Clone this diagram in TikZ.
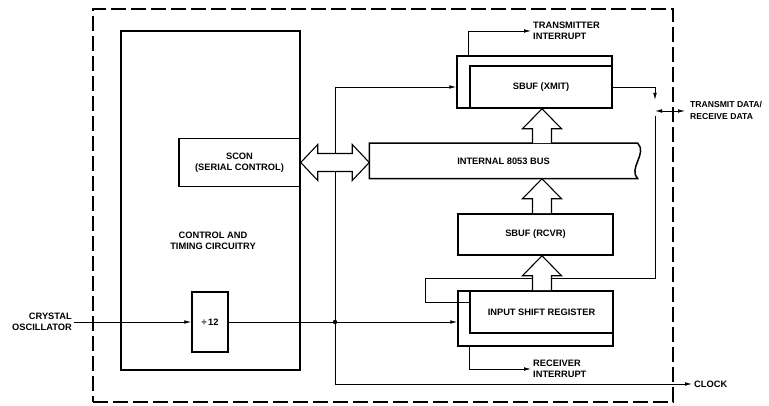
\documentclass[tikz,border=0pt]{standalone}
\usepackage{fontspec}
\setmainfont{Liberation Sans}
\usetikzlibrary{arrows.meta,calc,positioning}
\newcommand{\lbl}{\fontsize{9.3}{11.5}\selectfont\bfseries}
% hollow bus arrow pointing up, from #1 (lower box) to #2 (upper box), on column (ax)
\newcommand{\bigup}[2]{%
  \draw[hollow] ($(ax |- #1)+(-9.5,0)$) -- ($(ax |- #2)+(-9.5,20)$) -- ($(ax |- #2)+(-19.5,20)$)
    -- (ax |- #2) -- ($(ax |- #2)+(19.5,20)$) -- ($(ax |- #2)+(9.5,20)$) -- ($(ax |- #1)+(9.5,0)$);}
\tikzset{
    every node/.append style={align=center},
    box/.style={rectangle,draw=black,line width=1.5pt,inner sep=0pt,font=\lbl},
    boundary/.style={rectangle,draw=black,line width=1.1pt,dash pattern=on 15pt off 5pt},
    arr/.style={-{Latex[length=7pt,width=3.6pt]},line width=0.8pt},
    darr/.style={{Latex[length=7pt,width=3.6pt]}-{Latex[length=7pt,width=3.6pt]},line width=0.8pt},
    wire/.style={line width=0.8pt},
    hollow/.style={draw=black,fill=white,line width=1.1pt,line join=miter},
    txt/.style={font=\lbl,inner sep=2pt}
}
\begin{document}
\begin{tikzpicture}[x=1pt,y=-1pt]
    \useasboundingbox (0,0) rectangle (769,406);
    % chip outline and control section
    \node[boundary,minimum width=580pt,minimum height=393pt] (chip) at (383,205.5) {};
    \node[box,line width=1.7pt,minimum width=179pt,minimum height=339pt] (ctrl) at (210.5,200.5) {};
    \node[txt] (ctrltxt) at (213,241) {CONTROL AND\\TIMING CIRCUITRY};
    \node[box,minimum width=121pt,minimum height=48pt] (scon) at (239.5,162.5) {SCON\\(SERIAL CONTROL)};
    \node[box,minimum width=36pt,minimum height=60pt] (div) at (210,322) {÷\,12};

    % serial port buffers
    \node[box,draw=none,minimum width=267pt,minimum height=34pt] (bus) at (503.5,161) {INTERNAL 8053 BUS};
    \draw[line width=1.5pt] (bus.north east) -- (bus.north west) -- (bus.south west) -- (bus.south east)
        .. controls ($(bus.south east)+(-10,-10)$) and ($(bus.north east)+(10,10)$) .. (bus.north east) -- cycle;
    \node[box,minimum width=155pt,minimum height=52pt] (xmitb) at (534.5,82) {};
    \node[box,minimum width=142pt,minimum height=42pt] (xmit)  at (541,87) {SBUF (XMIT)};
    \node[box,minimum width=155pt,minimum height=41pt] (rcvr)  at (535.5,234.5) {SBUF (RCVR)};
    \node[box,minimum width=155pt,minimum height=55pt] (isrb)  at (535.5,318.5) {};
    \node[box,minimum width=143pt,minimum height=42pt] (isr)   at (541.5,312) {INPUT SHIFT REGISTER};

    % outside labels
    \node[txt,anchor=east,align=right] (xtal)  at (74,322)    {CRYSTAL\\OSCILLATOR};
    \node[txt,anchor=west,align=left]  (txint) at (531,31)    {TRANSMITTER\\INTERRUPT};
    \node[txt,anchor=west,align=left]  (rxint) at (531,369)   {RECEIVER\\INTERRUPT};
    \node[txt,anchor=west,align=left,font=\fontsize{8.6}{11.5}\selectfont\bfseries]
                                       (txd)   at (688,110.5) {TRANSMIT DATA/\\RECEIVE DATA};
    \node[txt,anchor=west]             (clk)   at (692,384)   {CLOCK};
    \coordinate (jn)  at (335,322);
    \coordinate (pin) at (655,111);
    \coordinate (fb)  at (425,278);
    \coordinate (ax)  at (542,0);

    % clock paths
    \draw[arr] (xtal.east) -- (div.west);
    \draw[arr] (div.east) -- (div.east -| isrb.west);
    \draw[arr] (jn) |- (xmit -| xmitb.west);
    \draw[arr] (jn) |- (clk.west);
    \fill (jn) circle (2.2pt);

    % serial data and interrupts
    \draw[arr] (xmit.east) -| ($(pin)+(0,-11)$);
    \draw[darr,shorten >=3pt] (pin) -- (pin -| txd.west);
    \draw[wire] ($(pin)+(0,5)$) |- (fb) |- ($(isr.north west)+(0,12)$);
    \draw[arr] (xmitb.north west) ++(12,0) |- (txint.west);
    \draw[arr] (isrb.south west) ++(12,0) |- (rxint.west);

    % bus transfers
    \draw[hollow] (scon.east) -- ++(17,-18) -- ++(0,9) -- ($(scon.east -| bus.west)+(-17,-9)$) -- ++(0,-9)
        -- (scon.east -| bus.west) -- ++(-17,18) -- ++(0,-9) -- ($(scon.east)+(17,9)$) -- ++(0,9) -- cycle;
    \bigup{isrb.north}{rcvr.south}
    \bigup{rcvr.north}{bus.south}
    \bigup{bus.north}{xmitb.south}
\end{tikzpicture}
\end{document}
